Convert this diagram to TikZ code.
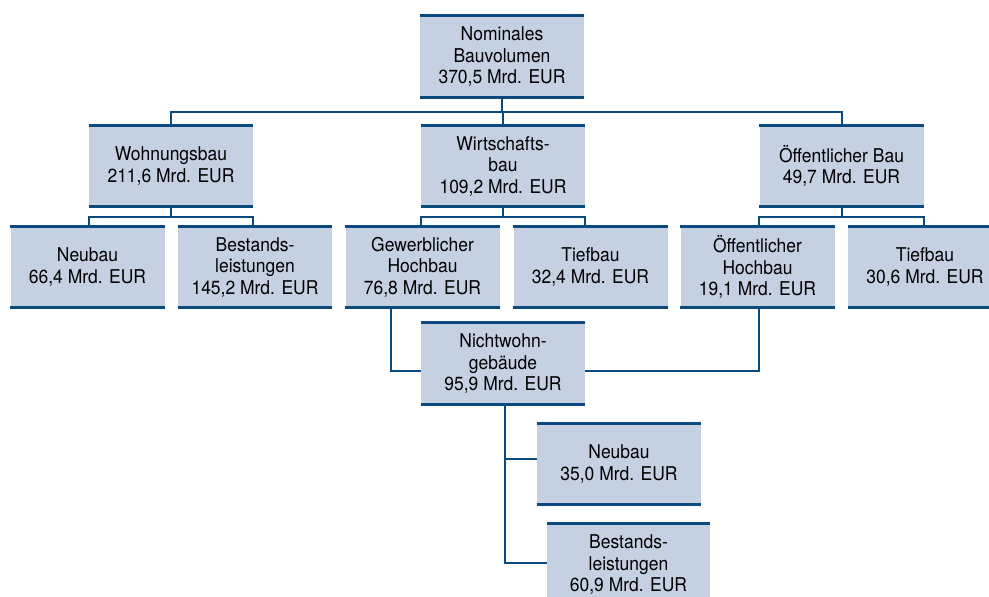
\documentclass[tikz,border=0pt]{standalone}
\usepackage{fontspec}
\setmainfont{TeX Gyre Heros}[FakeStretch=0.92]
\usetikzlibrary{calc}
\definecolor{boxfill}{HTML}{C5D0E2}
\definecolor{navy}{HTML}{0B4A7E}
\tikzset{
  box/.style={fill=boxfill, inner sep=0pt, minimum height=81pt,
    align=center, font=\fontsize{19}{21.5}\selectfont},
  wide/.style={box, minimum width=164pt},
  narrow/.style={box, minimum width=154pt},
  rule/.style={draw=navy, line width=3.3pt},
  conn/.style={draw=navy, line width=2pt},
}
\begin{document}
\begin{tikzpicture}[x=1pt,y=-1pt]
\clip (0,0) rectangle (989,597);
\fill[white] (0,0) rectangle (989,597);

% level 0
\node[wide] (nom) at (502,56.5) {Nominales\\Bauvolumen\\370,5 Mrd. EUR};
% level 1
\node[wide] (wohn) at (171,166) {Wohnungsbau\\211,6 Mrd. EUR};
\node[wide] (wirt) at (503,166) {Wirtschafts-\\bau\\109,2 Mrd. EUR};
\node[wide] (oeff) at (841.5,166) {Öffentlicher Bau\\49,7 Mrd. EUR};
% level 2
\node[narrow] (neu1) at (87.5,267) {Neubau\\66,4 Mrd. EUR};
\node[narrow] (best1) at (255,267) {Bestands-\\leistungen\\145,2 Mrd. EUR};
\node[narrow] (gew) at (422.5,267) {Gewerblicher\\Hochbau\\76,8 Mrd. EUR};
\node[narrow] (tief1) at (590.5,267) {Tiefbau\\32,4 Mrd. EUR};
\node[narrow] (oeh) at (757.5,267) {Öffentlicher\\Hochbau\\19,1 Mrd. EUR};
\node[narrow] (tief2) at (925,267) {Tiefbau\\30,6 Mrd. EUR};
% non-residential buildings
\node[wide] (nwg) at (503,363.5) {Nichtwohn-\\gebäude\\95,9 Mrd. EUR};
\node[wide] (neu2) at (619,464) {Neubau\\35,0 Mrd. EUR};
\node[box, minimum width=163pt] (best2) at (628.5,564.5) {Bestands-\\leistungen\\60,9 Mrd. EUR};

% top and bottom rules of every box
\foreach \n in {nom,wohn,wirt,oeff,neu1,best1,gew,tief1,oeh,tief2,nwg,neu2,best2}{
  \draw[rule] (\n.north west) -- (\n.north east);
  \draw[rule] (\n.south west) -- (\n.south east);
}

% connectors
\coordinate (bus0) at ($(nom.south)+(0,15)$);
\draw[conn] (nom.south) -- (bus0);
\draw[conn] (wohn.north) |- (bus0) -| (oeff.north);
\draw[conn] (wirt.north) -- (wirt.north |- bus0);

\foreach \p/\a/\b in {wohn/neu1/best1, wirt/gew/tief1, oeff/oeh/tief2}{
  \coordinate (j) at ($(\p.south)+(0,10)$);
  \draw[conn] (\p.south) -- (j);
  \draw[conn] (\p.west |- \a.north) |- (j) -| (\p.east |- \b.north);
}

\draw[conn] ([xshift=-32pt]gew.south) |- ([yshift=-7pt]nwg.west);
\draw[conn] ([yshift=-7pt]nwg.east) -| ([xshift=1.5pt]oeh.south);
\draw[conn] ([xshift=2pt]nwg.south) |- ([yshift=5pt]neu2.west);
\draw[conn] ([xshift=2pt]nwg.south) |- ([yshift=1.5pt]best2.west);
\end{tikzpicture}
\end{document}
